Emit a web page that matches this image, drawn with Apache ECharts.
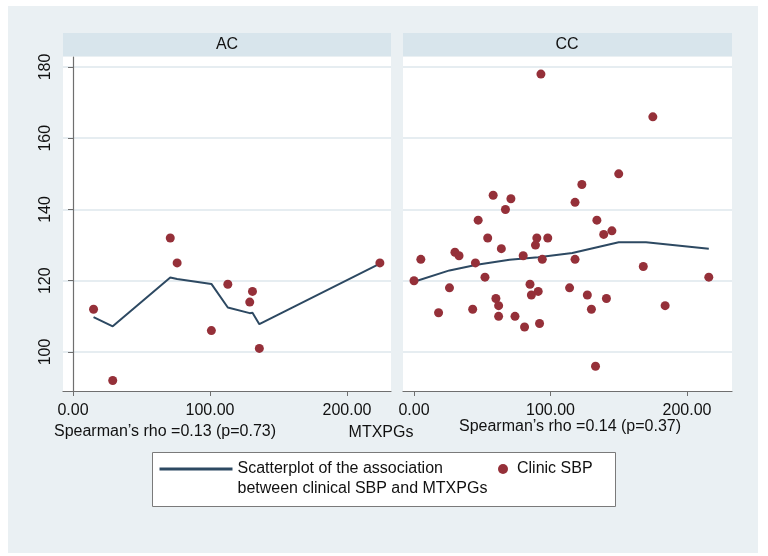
<!DOCTYPE html>
<html>
<head>
<meta charset="utf-8">
<script src="https://cdn.jsdelivr.net/npm/echarts@6/dist/echarts.min.js"></script>
<style>html,body{margin:0;padding:0;background:#fff;}#c{width:768px;height:556px;}</style>
</head>
<body>
<div id="c"></div>
<script>
// ---- data ----
const panelTitles = ['AC', 'CC'];
const acX = [15, 29, 71, 76, 101, 113, 129, 131, 136, 224];
const acY = [112, 92, 132, 125, 106, 119, 114, 117, 101, 125];
const acFitX = [15, 29, 71, 76, 101, 113, 129, 131, 136, 224];
const acFitY = [109.8, 107.2, 120.9, 120.5, 119.1, 112.5, 110.9, 111.0, 107.8, 124.8];
const ccX = [93, 175, 150, 123, 58, 71, 67, 118, 47, 134, 145, 139, 54, 90, 98, 89, 64, 30, 33, 80, 5, 94, 118, 45, 168, 0, 52, 216,
             26, 85, 114, 60, 86, 91, 127, 141, 62, 184, 18, 43, 130, 62, 74, 81, 92, 133];
const ccY = [178, 166, 150, 147, 144, 143, 140, 142, 137, 137, 134, 133, 132, 132, 132, 130, 129, 128, 127, 127, 126, 126, 126, 125, 124, 120, 121, 121,
             118, 119, 118, 115, 116, 117, 116, 115, 113, 113, 111, 112, 112, 110, 110, 107, 108, 96];
const ccFitX = [0, 26, 46, 70, 91, 116, 150, 170, 216];
const ccFitY = [119.7, 122.9, 124.5, 125.9, 126.6, 127.8, 130.8, 130.8, 129.0];
const yTicks = [100, 120, 140, 160, 180];
const xTicks = [0, 100, 200];
const xTickLabels = ['0.00', '100.00', '200.00'];
const fitName = 'Scatterplot of the association\nbetween clinical SBP and MTXPGs';
const dotName = 'Clinic SBP';
const noteAC = 'Spearman\u2019s rho =0.13 (p=0.73)';
const noteCC = 'Spearman\u2019s rho =0.14 (p=0.37)';
const xTitle = 'MTXPGs';

const zip = (a, b) => a.map((v, i) => [v, b[i]]);
const FONT = '"Liberation Sans", Arial, sans-serif';
const BG = '#eaf0f3';
const HEAD = '#d8e5ec';
const DOT = '#953039';
const LINE = '#2d4962';

const chart = echarts.init(document.getElementById('c'), null, {renderer: 'canvas'});

function xAxisCfg(idx, min, max) {
  return {
    type: 'value', gridIndex: idx, min: min, max: max,
    axisLine: {show: true, onZero: false, lineStyle: {color: '#6f6f6f', width: 1.2}},
    axisTick: {show: true, length: 5, customValues: xTicks, lineStyle: {color: '#6f6f6f'}},
    axisLabel: {customValues: xTicks, margin: 12, color: '#111', fontFamily: FONT, fontSize: 16,
      formatter: v => xTickLabels[xTicks.indexOf(v)]},
    splitLine: {show: false}
  };
}
function yAxisCfg(idx, showAxis) {
  return {
    type: 'value', gridIndex: idx, min: 89.05, max: 182.8,
    axisLine: {show: showAxis, lineStyle: {color: '#6f6f6f', width: 1.2}},
    axisTick: {show: showAxis, length: 5, customValues: yTicks, lineStyle: {color: '#6f6f6f'}},
    axisLabel: {show: showAxis, customValues: yTicks, rotate: 90, margin: 9, color: '#111', fontFamily: FONT, fontSize: 16},
    splitLine: {show: true, lineStyle: {color: '#e6edf1', width: 2}}
  };
}

chart.setOption({
  backgroundColor: '#fff',
  animation: false,
  grid: [
    {left: 63, top: 57, width: 328, height: 334, show: true, backgroundColor: '#fff', borderWidth: 0},
    {left: 403, top: 57, width: 329, height: 334, show: true, backgroundColor: '#fff', borderWidth: 0}
  ],
  xAxis: [xAxisCfg(0, -7.3, 232.1), xAxisCfg(1, -8.06, 233)],
  yAxis: [yAxisCfg(0, true), yAxisCfg(1, false)],
  legend: [
    {data: [fitName], left: 158, top: 439, padding: 0, itemWidth: 73, itemHeight: 4,
     lineStyle: {width: 3}, itemStyle: {opacity: 0},
     formatter: name => '\n' + name,
     textStyle: {fontFamily: FONT, fontSize: 16, color: '#111', lineHeight: 20}},
    {data: [{name: dotName, icon: 'circle'}], left: 498, top: 459, padding: 0, itemWidth: 10, itemHeight: 10,
     textStyle: {fontFamily: FONT, fontSize: 16, color: '#111', lineHeight: 20, padding: [0, 0, 0, 4]}}
  ],
  graphic: [
    {type: 'rect', z: -100, shape: {x: 8, y: 6, width: 750, height: 547}, style: {fill: BG}},
    {type: 'rect', shape: {x: 63, y: 33, width: 328, height: 23}, style: {fill: HEAD}},
    {type: 'rect', shape: {x: 403, y: 33, width: 329, height: 23}, style: {fill: HEAD}},
    {type: 'text', x: 227, y: 45, style: {text: panelTitles[0], font: '16px ' + FONT, fill: '#111', align: 'center', verticalAlign: 'middle'}},
    {type: 'text', x: 567, y: 45, style: {text: panelTitles[1], font: '16px ' + FONT, fill: '#111', align: 'center', verticalAlign: 'middle'}},
    {type: 'text', x: 165, y: 432, style: {text: noteAC, font: '16px ' + FONT, fill: '#111', align: 'center', verticalAlign: 'middle'}},
    {type: 'text', x: 570, y: 427, style: {text: noteCC, font: '16px ' + FONT, fill: '#111', align: 'center', verticalAlign: 'middle'}},
    {type: 'text', x: 381, y: 433, style: {text: xTitle, font: '16px ' + FONT, fill: '#111', align: 'center', verticalAlign: 'middle'}},
    {type: 'rect', z: -1, shape: {x: 152.5, y: 452.5, width: 463, height: 54}, style: {fill: '#fff', stroke: '#7a7a7a', lineWidth: 1}}
  ],
  series: [
    {name: fitName, type: 'line', xAxisIndex: 0, yAxisIndex: 0, data: zip(acFitX, acFitY), symbol: 'none',
     lineStyle: {color: LINE, width: 2}, itemStyle: {color: LINE}, z: 3},
    {name: dotName, type: 'scatter', xAxisIndex: 0, yAxisIndex: 0, data: zip(acX, acY), symbolSize: 9,
     itemStyle: {color: DOT, opacity: 1}, z: 4},
    {name: fitName, type: 'line', xAxisIndex: 1, yAxisIndex: 1, data: zip(ccFitX, ccFitY), symbol: 'none',
     lineStyle: {color: LINE, width: 2}, itemStyle: {color: LINE}, z: 3},
    {name: dotName, type: 'scatter', xAxisIndex: 1, yAxisIndex: 1, data: zip(ccX, ccY), symbolSize: 9,
     itemStyle: {color: DOT, opacity: 1}, z: 4}
  ]
});
</script>
</body>
</html>
